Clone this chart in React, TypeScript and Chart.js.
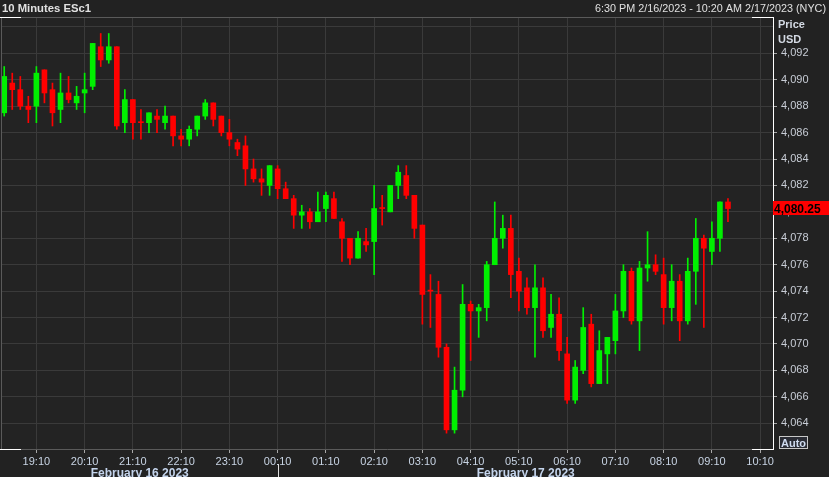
import React, { useEffect, useRef } from 'react';
import { Chart, registerables } from 'chart.js';

Chart.register(...registerables);

// ---- Data (10-minute ESc1 bars, 18:30 Feb 16 -> 09:30 Feb 17) ----
const opens = [
  4087.5, 4089.75, 4089.25, 4088.0, 4088.0, 4090.75, 4089.25, 4087.75, 4089.0, 4088.25,
  4089.0, 4089.5, 4092.5, 4091.5, 4092.5, 4086.75, 4088.5, 4086.75, 4086.75, 4087.25,
  4086.75, 4087.25, 4085.75, 4085.5, 4086.25, 4087.25, 4088.25, 4087.25, 4086.0, 4085.25,
  4085.0, 4083.25, 4082.5, 4082.0, 4083.25, 4081.75, 4081.0, 4079.75, 4080.0, 4079.25,
  4080.25, 4081.0, 4079.25, 4078.0, 4076.5, 4077.75, 4077.75, 4080.25, 4080.0, 4082.0,
  4082.75, 4081.25, 4079.0, 4074.0, 4073.75, 4069.75, 4063.5, 4066.5, 4073.0, 4072.5,
  4072.75, 4076.0, 4078.0, 4078.75, 4075.5, 4074.25, 4072.75, 4074.25, 4071.25, 4072.25,
  4069.25, 4065.75, 4068.0, 4071.5, 4067.0, 4069.25, 4070.25, 4072.5, 4075.5, 4071.75,
  4075.75, 4076.0, 4075.25, 4072.75, 4074.75, 4071.75, 4075.5, 4078.0, 4077.0, 4078.0,
  4080.75,
];
const highs = [
  4091.0, 4090.5, 4090.25, 4088.75, 4091.0, 4090.75, 4089.75, 4090.5, 4090.25, 4089.5,
  4090.5, 4092.75, 4093.5, 4093.5, 4092.5, 4089.25, 4088.5, 4087.75, 4087.5, 4087.75,
  4088.0, 4087.25, 4086.25, 4086.5, 4087.25, 4088.5, 4088.25, 4087.25, 4087.0, 4085.5,
  4085.75, 4084.0, 4083.25, 4083.5, 4083.5, 4082.25, 4081.25, 4080.5, 4080.25, 4081.5,
  4081.5, 4081.5, 4079.5, 4078.0, 4078.5, 4078.75, 4082.0, 4081.25, 4082.0, 4083.5,
  4083.5, 4081.25, 4079.0, 4075.25, 4074.75, 4070.0, 4068.25, 4074.5, 4073.25, 4073.0,
  4076.25, 4080.75, 4079.75, 4079.75, 4076.5, 4075.0, 4076.0, 4075.0, 4073.75, 4073.5,
  4070.5, 4068.75, 4072.75, 4072.25, 4071.0, 4070.5, 4073.75, 4076.0, 4075.75, 4076.25,
  4078.5, 4076.75, 4076.5, 4076.0, 4075.25, 4076.5, 4079.5, 4078.25, 4079.25, 4080.75,
  4081.0,
];
const lows = [
  4087.25, 4087.75, 4087.75, 4086.75, 4086.75, 4088.25, 4086.5, 4086.75, 4088.25, 4087.75,
  4087.5, 4089.25, 4091.0, 4091.25, 4086.25, 4086.0, 4085.5, 4085.5, 4086.0, 4086.0,
  4086.25, 4085.0, 4085.0, 4085.0, 4085.75, 4087.0, 4086.5, 4085.75, 4085.0, 4084.25,
  4082.0, 4082.25, 4081.25, 4081.25, 4081.0, 4081.0, 4078.75, 4078.75, 4078.75, 4079.25,
  4079.25, 4079.5, 4076.25, 4076.0, 4076.5, 4077.0, 4075.25, 4079.0, 4080.0, 4081.0,
  4081.0, 4078.0, 4071.5, 4071.25, 4069.0, 4063.25, 4063.25, 4066.0, 4068.75, 4070.5,
  4071.75, 4076.0, 4077.25, 4073.5, 4072.5, 4072.25, 4069.0, 4070.5, 4070.5, 4068.75,
  4065.5, 4065.5, 4067.75, 4066.75, 4067.0, 4067.0, 4069.25, 4072.0, 4071.5, 4069.5,
  4074.75, 4075.25, 4071.5, 4071.75, 4070.25, 4071.5, 4073.0, 4071.25, 4076.0, 4077.0,
  4079.25,
];
const closes = [
  4090.25, 4089.25, 4088.0, 4087.75, 4090.5, 4089.0, 4087.5, 4089.0, 4088.5, 4088.75,
  4089.25, 4092.75, 4091.5, 4092.5, 4086.5, 4088.5, 4086.75, 4086.75, 4087.5, 4087.0,
  4087.25, 4085.75, 4085.5, 4086.25, 4087.25, 4088.25, 4087.0, 4086.0, 4085.5, 4084.75,
  4083.25, 4082.5, 4082.25, 4083.5, 4081.75, 4081.0, 4079.75, 4080.0, 4079.25, 4080.0,
  4081.25, 4079.5, 4078.0, 4076.5, 4078.0, 4077.5, 4080.25, 4080.25, 4082.0, 4083.0,
  4081.25, 4078.75, 4073.75, 4074.0, 4069.75, 4063.5, 4066.5, 4073.0, 4072.5, 4072.75,
  4076.0, 4078.0, 4078.75, 4075.25, 4074.0, 4072.75, 4074.25, 4071.0, 4072.25, 4069.5,
  4065.75, 4068.25, 4071.25, 4067.0, 4069.5, 4070.5, 4072.5, 4075.5, 4071.75, 4075.75,
  4076.0, 4075.5, 4072.75, 4074.75, 4071.75, 4075.5, 4078.0, 4077.25, 4078.0, 4080.75,
  4080.25,
];

const xTickIndices = [4, 10, 16, 22, 28, 34, 40, 46, 52, 58, 64, 70, 76, 82, 88, 94];
const xTickLabels = [
  '19:10', '20:10', '21:10', '22:10', '23:10', '00:10', '01:10', '02:10',
  '03:10', '04:10', '05:10', '06:10', '07:10', '08:10', '09:10', '10:10',
];
const yTickValues = [
  4064, 4066, 4068, 4070, 4072, 4074, 4076, 4078, 4080, 4082, 4084, 4086, 4088, 4090, 4092, 4094,
];
const dayLabels = ['February 16 2023', 'February 17 2023'];
const dayBoundaryIndex = 34;
const titleText = '10 Minutes ESc1';
const rangeText = '6:30 PM 2/16/2023 - 10:20 AM 2/17/2023 (NYC)';
const axisTitleLines = ['Price', 'USD'];

const GREEN = '#00f000';
const RED = '#ff0000';
const BG = '#222222';
const FONT = "'Liberation Sans', Arial, sans-serif";

function fitText(ctx: CanvasRenderingContext2D, text: string, x: number, y: number, width: number, align: 'left' | 'right' | 'center') {
  const w = ctx.measureText(text).width;
  const s = w > 0 ? width / w : 1;
  ctx.save();
  let startX = x;
  if (align === 'right') startX = x - width;
  if (align === 'center') startX = x - width / 2;
  ctx.translate(startX, y);
  ctx.scale(s, 1);
  ctx.textAlign = 'left';
  ctx.fillText(text, 0, 0);
  ctx.restore();
}

const decorPlugin = {
  id: 'decor',
  beforeDraw(chart: any) {
    const { ctx, width, height, chartArea } = chart;
    ctx.save();
    ctx.fillStyle = BG;
    ctx.fillRect(0, 0, width, height);
    ctx.fillStyle = '#232323';
    ctx.fillRect(chartArea.left, chartArea.top, chartArea.right - chartArea.left, chartArea.bottom - chartArea.top);
    ctx.restore();
  },
  afterDraw(chart: any) {
    const { ctx, chartArea, scales } = chart;
    const { left, right, top, bottom } = chartArea;
    ctx.save();
    // frame
    ctx.lineWidth = 1;
    ctx.strokeStyle = '#5a5a5a';
    ctx.beginPath();
    ctx.moveTo(left, top + 0.5);
    ctx.lineTo(right, top + 0.5);
    ctx.moveTo(left + 0.5, top);
    ctx.lineTo(left + 0.5, bottom);
    ctx.stroke();
    ctx.strokeStyle = '#ffffff';
    ctx.beginPath();
    ctx.moveTo(left - 1, top + 0.5);
    ctx.lineTo(left + 20, top + 0.5);
    ctx.moveTo(right - 21, top + 0.5);
    ctx.lineTo(right, top + 0.5);
    ctx.moveTo(left - 1, bottom + 0.5);
    ctx.lineTo(left + 20, bottom + 0.5);
    ctx.moveTo(right - 21, bottom + 0.5);
    ctx.lineTo(right, bottom + 0.5);
    ctx.stroke();

    // header
    ctx.textBaseline = 'alphabetic';
    ctx.fillStyle = '#e0e0e0';
    ctx.font = `bold 11px ${FONT}`;
    fitText(ctx, titleText, 2, 12, 89, 'left');
    ctx.font = `11px ${FONT}`;
    fitText(ctx, rangeText, 826, 12, 231, 'right');

    // axis title
    ctx.fillStyle = '#d4dae4';
    ctx.font = `bold 11px ${FONT}`;
    ctx.textAlign = 'left';
    ctx.fillText(axisTitleLines[0], right + 5, 28);
    ctx.fillText(axisTitleLines[1], right + 5, 43);

    // last price label
    const yScale = scales.y;
    const last = closes[closes.length - 1];
    const ly = Math.round(yScale.getPixelForValue(last)) - 1;
    ctx.fillStyle = RED;
    ctx.fillRect(right, ly - 7, 56, 14);
    ctx.fillStyle = '#000000';
    ctx.font = `bold 12px ${FONT}`;
    ctx.textAlign = 'left';
    ctx.fillText(last.toLocaleString('en-US', { minimumFractionDigits: 2, maximumFractionDigits: 2 }), right + 1, ly + 5);

    // Auto box
    ctx.fillStyle = '#2a2c34';
    ctx.fillRect(right + 6.5, bottom - 12.5, 28, 12);
    ctx.strokeStyle = '#c8c8c8';
    ctx.strokeRect(right + 6.5, bottom - 12.5, 28, 12);
    ctx.fillStyle = '#d0dcf0';
    ctx.font = `bold 11px ${FONT}`;
    ctx.textAlign = 'center';
    ctx.fillText('Auto', right + 20.5, bottom - 2.5);

    // day labels
    const xScale = scales.x;
    const sep = Math.round(xScale.getPixelForValue(dayBoundaryIndex)) + 0.5;
    ctx.strokeStyle = '#e0e0e0';
    ctx.beginPath();
    ctx.moveTo(sep, 464);
    ctx.lineTo(sep, 477);
    ctx.stroke();
    ctx.fillStyle = '#c4d4ec';
    ctx.font = `bold 12px ${FONT}`;
    ctx.textAlign = 'center';
    ctx.fillText(dayLabels[0], (left + sep) / 2, 477);
    ctx.fillText(dayLabels[1], (sep + right) / 2, 477);
    ctx.restore();
  },
};

export default function App() {
  const ref = useRef<HTMLCanvasElement>(null);
  useEffect(() => {
    document.body.style.margin = '0';
    document.body.style.background = BG;
    const canvas = ref.current!;
    const idx = closes.map((_, i) => i);
    const colors = closes.map((c, i) => (c > opens[i] ? GREEN : RED));
    const chart = new Chart(canvas, {
      type: 'bar',
      data: {
        datasets: [
          {
            label: 'body',
            data: idx.map((i) => ({ x: i, y: [opens[i], closes[i]] })) as any,
            backgroundColor: colors,
            barThickness: 5,
            grouped: false,
            minBarLength: 1,
            borderWidth: 0,
          } as any,
          {
            label: 'wick',
            data: idx.map((i) => ({ x: i, y: [lows[i], highs[i]] })) as any,
            backgroundColor: colors,
            barThickness: 1,
            grouped: false,
            borderWidth: 0,
          } as any,
        ],
      },
      options: {
        responsive: false,
        animation: false,
        devicePixelRatio: 1,
        events: [],
        layout: { padding: { top: 17, left: 1, right: 0, bottom: 0 } },
        plugins: {
          legend: { display: false },
          tooltip: { enabled: false },
          title: { display: false },
        },
        scales: {
          x: {
            type: 'linear',
            min: -0.4,
            max: 95.6,
            offset: false,
            afterBuildTicks: (s: any) => {
              s.ticks = xTickIndices.map((v) => ({ value: v }));
            },
            afterFit: (s: any) => {
              s.height = 28;
            },
            ticks: {
              autoSkip: false,
              maxRotation: 0,
              minRotation: 0,
              color: '#c8d4e4',
              font: { family: FONT, size: 11 },
              padding: 2,
              callback: (_v: any, i: number) => xTickLabels[i],
            },
            grid: { color: '#3a3a3a', tickColor: '#a8a8a8', tickLength: 4, offset: false, drawOnChartArea: true },
            border: { color: '#5a5a5a' },
          },
          y: {
            type: 'linear',
            position: 'right',
            min: 4062.05,
            max: 4094.75,
            afterBuildTicks: (s: any) => {
              s.ticks = yTickValues.map((v) => ({ value: v }));
            },
            afterFit: (s: any) => {
              s.width = 56;
            },
            ticks: {
              color: '#c8cdd6',
              font: { family: FONT, size: 11 },
              padding: 4,
              callback: (v: any) => (v === 4094 ? '' : Number(v).toLocaleString('en-US')),
            },
            grid: {
              color: '#3a3a3a',
              tickColor: (c: any) => (c.tick && c.tick.value === 4094 ? 'rgba(0,0,0,0)' : '#a8a8a8'),
              tickLength: 4,
            },
            border: { color: '#ffffff' },
          },
        },
      } as any,
      plugins: [decorPlugin],
    });
    return () => chart.destroy();
  }, []);
  return <canvas ref={ref} width={829} height={477} style={{ display: 'block', width: 829, height: 477 }} />;
}
